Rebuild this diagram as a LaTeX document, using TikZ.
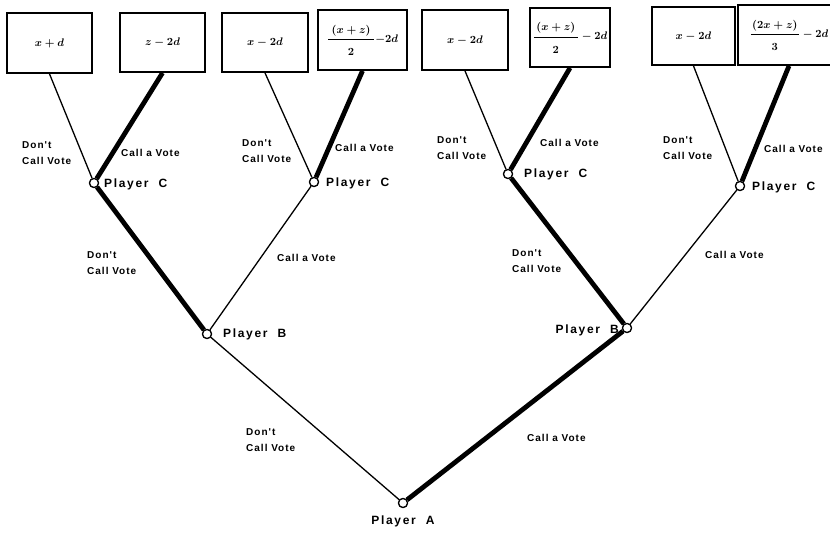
\documentclass[tikz,border=0pt]{standalone}
\usepackage{fontspec}
\setmainfont{Liberation Sans}
\newfontfamily\labfont[LetterSpace=10]{Liberation Sans}
\newfontfamily\plfont[LetterSpace=14]{Liberation Sans}
\begin{document}
\begin{tikzpicture}[x=1pt,y=-1pt,
  box/.style={draw,line width=1.8pt,inner sep=0pt,font=\fontsize{11}{13}\selectfont\boldmath},
  dec/.style={circle,draw,fill=white,line width=1.2pt,minimum size=9pt,inner sep=0pt},
  lo/.style={line width=1.3pt},
  hi/.style={line width=4.8pt},
  lab/.style={font=\labfont\bfseries\fontsize{10}{16}\selectfont,align=left,inner sep=0pt},
  pl/.style={font=\plfont\bfseries\fontsize{12}{14}\selectfont,inner sep=0pt}]
\useasboundingbox (0,0) rectangle (830,534);
\clip (0,0) rectangle (830,534);
% payoff boxes
\node[box,minimum width=85pt,minimum height=60pt] (b1) at (49.5,43) {$x + d$};
\node[box,minimum width=85pt,minimum height=59pt] (b2) at (162.5,42.5) {$z - 2d$};
\node[box,minimum width=86pt,minimum height=59pt] (b3) at (265,42.5) {$x - 2d$};
\node[box,minimum width=89pt,minimum height=60pt] (b4) at (362.5,40) {$\displaystyle\frac{\rule[-5pt]{0pt}{14pt}\makebox[46pt]{$(x+z)$}}{\rule{0pt}{15pt}2}{-}2d$};
\node[box,minimum width=86pt,minimum height=60pt] (b5) at (465,40) {$x - 2d$};
\node[box,minimum width=80pt,minimum height=59pt] (b6) at (570,37.5) {$\displaystyle\frac{\rule[-5pt]{0pt}{14pt}\makebox[44pt]{$(x+z)$}}{\rule{0pt}{15pt}2} - 2d$};
\node[box,minimum width=83pt,minimum height=58pt] (b7) at (693.5,36) {$x - 2d$};
\node[box,minimum width=102pt,minimum height=60pt] (b8) at (789,35) {$\displaystyle\frac{\rule[-5pt]{0pt}{14pt}\makebox[48pt]{$(2x+z)$}}{\rule{0pt}{15pt}3} - 2d$};
% decision nodes
\node[dec] (c1) at (94,183) {};
\node[dec] (c2) at (314,182) {};
\node[dec] (c3) at (508,174) {};
\node[dec] (c4) at (740,186) {};
\node[dec] (pb1) at (207,334) {};
\node[dec] (pb2) at (627,328) {};
\node[dec] (pa) at (403,503) {};
% branches
\draw[lo] (c1) -- (b1.south);
\draw[hi] (c1) -- (b2.south);
\draw[lo] (c2) -- (b3.south);
\draw[hi] (c2) -- (b4.south);
\draw[lo] (c3) -- (b5.south);
\draw[hi] (c3) -- (b6.south);
\draw[lo] (c4) -- (b7.south);
\draw[hi] (c4) -- (b8.south);
\draw[hi] (pb1) -- (c1);
\draw[lo] (pb1) -- (c2);
\draw[hi] (pb2) -- (c3);
\draw[lo] (pb2) -- (c4);
\draw[lo] (pa) -- (pb1);
\draw[hi] (pa) -- (pb2);
% redraw nodes on top
\foreach \n in {c1,c2,c3,c4,pb1,pb2,pa}{\node[dec] at (\n) {};}
% labels
\node[lab,anchor=north west] (l1) at (22,141) {Don't\\Call Vote};
\node[lab,anchor=west] (l2) at (121,153) {Call a Vote};
\node[pl,anchor=west] (p1) at (104,184) {Player\ \ C};
\node[lab,anchor=north west] (l3) at (242,139) {Don't\\Call Vote};
\node[lab,anchor=west] (l4) at (335,148) {Call a Vote};
\node[pl,anchor=west] (p2) at (326,183) {Player\ \ C};
\node[lab,anchor=north west] (l5) at (437,136) {Don't\\Call Vote};
\node[lab,anchor=west] (l6) at (540,143) {Call a Vote};
\node[pl,anchor=west] (p3) at (524,174) {Player\ \ C};
\node[lab,anchor=north west] (l7) at (663,136) {Don't\\Call Vote};
\node[lab,anchor=west] (l8) at (764,149) {Call a Vote};
\node[pl,anchor=west] (p4) at (752,187) {Player\ \ C};
\node[lab,anchor=north west] (l9) at (87,251) {Don't\\Call Vote};
\node[lab,anchor=west] (l10) at (277,258) {Call a Vote};
\node[pl,anchor=west] (p5) at (223,334) {Player\ \ B};
\node[lab,anchor=north west] (l11) at (512,249) {Don't\\Call Vote};
\node[lab,anchor=west] (l12) at (705,255) {Call a Vote};
\node[pl,anchor=east] (p6) at (619,330) {Player\ \ B};
\node[lab,anchor=north west] (l13) at (246,428) {Don't\\Call Vote};
\node[lab,anchor=west] (l14) at (527,438) {Call a Vote};
\node[pl,anchor=north] (p7) at (403,516) {Player\ \ A};
\end{tikzpicture}
\end{document}
